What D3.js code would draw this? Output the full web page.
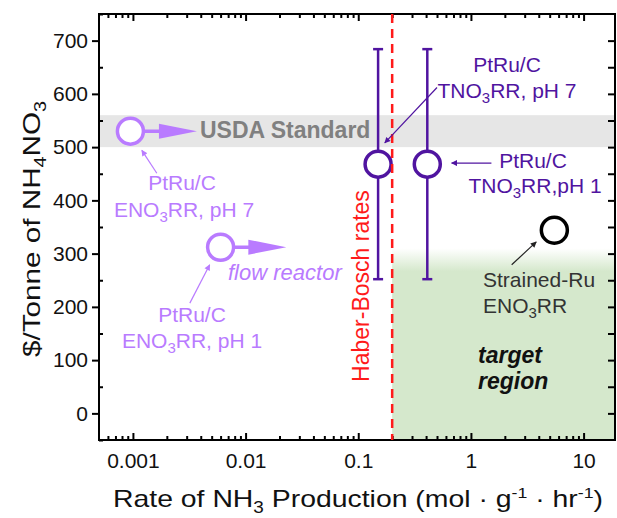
<!DOCTYPE html>
<html>
<head>
<meta charset="utf-8">
<script src="https://cdn.jsdelivr.net/npm/d3@7"></script>
<style>
  body { margin: 0; background: #fff; }
  svg text { font-family: "Liberation Sans", Arial, sans-serif; }
</style>
</head>
<body>
<div id="chart"></div>
<script>
// ---- data ----
const xTicks = [0.001, 0.01, 0.1, 1, 10];
const xTickLabels = ["0.001", "0.01", "0.1", "1", "10"];
const yTicks = [0, 100, 200, 300, 400, 500, 600, 700];

// ENO3RR points (light purple) with projected arrow end
const enoNames = ["pH 7", "flow"];
const enoRate = [0.00095, 0.006];
const enoCost = [530, 312];
const enoArrowTo = [0.0037, 0.023];

// TNO3RR points (dark purple) with error bars
const tnoNames = ["pH 7", "pH 1"];
const tnoRate = [0.15, 0.41];
const tnoCost = [468, 468];
const tnoLow = [252, 252];
const tnoHigh = [684, 684];

// Strained-Ru
const ruRate = [5.5];
const ruCost = [344];

const haberBosch = 0.2;
const usdaBand = [500, 560];
const targetTop = 310;

// ---- layout ----
const width = 617, height = 518;
const margin = { top: 14, right: 2, bottom: 78, left: 99 };
const innerW = width - margin.left - margin.right,
      innerH = height - margin.top - margin.bottom;

const light = "#b97bff", dark = "#5014a0";

const svg = d3.select("#chart").append("svg")
    .attr("width", width)
    .attr("height", height);

const g = svg.append("g")
    .attr("transform", `translate(${margin.left},${margin.top})`);

const x = d3.scaleLog().domain([0.0005, 19]).range([0, innerW]);
const y = d3.scaleLinear().domain([-50, 750]).range([innerH, 0]);

// arrow markers
const defs = svg.append("defs");
function marker(id, color, w, h) {
    defs.append("marker")
        .attr("id", id)
        .attr("viewBox", "0 0 10 10")
        .attr("refX", 9).attr("refY", 5)
        .attr("markerWidth", w).attr("markerHeight", h)
        .attr("markerUnits", "userSpaceOnUse")
        .attr("orient", "auto")
        .append("path")
        .attr("d", "M0,0L10,5L0,10z")
        .attr("fill", color);
}
marker("ahLight", light, 8, 6);
marker("ahDark", dark, 9, 6);
marker("ahBlack", "#222", 9, 6);

const grad = defs.append("linearGradient")
    .attr("id", "greenFade")
    .attr("x1", 0).attr("y1", 0).attr("x2", 0).attr("y2", 1);
grad.append("stop").attr("offset", "0%").attr("stop-color", "#d5e8cc").attr("stop-opacity", 0);
grad.append("stop").attr("offset", "12%").attr("stop-color", "#d5e8cc").attr("stop-opacity", 1);
grad.append("stop").attr("offset", "100%").attr("stop-color", "#d5e8cc").attr("stop-opacity", 1);

// USDA band
g.append("rect")
    .attr("x", 0)
    .attr("y", y(usdaBand[1]))
    .attr("width", innerW)
    .attr("height", y(usdaBand[0]) - y(usdaBand[1]))
    .attr("fill", "#e6e6e6");

// target region
g.append("rect")
    .attr("x", x(haberBosch))
    .attr("y", y(targetTop))
    .attr("width", innerW - x(haberBosch))
    .attr("height", innerH - y(targetTop))
    .attr("fill", "url(#greenFade)");

// axes
const minorX = [];
[-4, -3, -2, -1, 0, 1].forEach(e => {
    for (let k = 2; k <= 9; k++) {
        const v = k * Math.pow(10, e);
        if (v > 0.0005 && v < 19) minorX.push(v);
    }
});
const minorY = d3.range(-50, 751, 100);

// bottom: ticks inward
g.append("g")
    .attr("transform", `translate(0,${innerH})`)
    .call(d3.axisBottom(x).tickValues(xTicks).tickFormat((d, i) => xTickLabels[i])
        .tickSizeInner(-7).tickSizeOuter(0).tickPadding(13))
    .call(a => a.select(".domain").remove())
    .call(a => a.selectAll("text").attr("font-size", 21).attr("fill", "#111"));
g.append("g")
    .attr("transform", `translate(0,${innerH})`)
    .call(d3.axisBottom(x).tickValues(minorX).tickFormat("").tickSizeInner(-4).tickSizeOuter(0))
    .call(a => a.select(".domain").remove());

// top: ticks inward
g.append("g")
    .call(d3.axisBottom(x).tickValues(xTicks).tickFormat("").tickSizeInner(7).tickSizeOuter(0))
    .call(a => a.select(".domain").remove());
g.append("g")
    .call(d3.axisBottom(x).tickValues(minorX).tickFormat("").tickSizeInner(4).tickSizeOuter(0))
    .call(a => a.select(".domain").remove());

// left: major outward, minor inward
g.append("g")
    .call(d3.axisLeft(y).tickValues(yTicks).tickSizeInner(7).tickSizeOuter(0).tickPadding(4))
    .call(a => a.select(".domain").remove())
    .call(a => a.selectAll("text").attr("font-size", 21).attr("fill", "#111"));
g.append("g")
    .call(d3.axisRight(y).tickValues(minorY).tickFormat("").tickSizeInner(4).tickSizeOuter(0))
    .call(a => a.select(".domain").remove());

// right: inward
g.append("g")
    .attr("transform", `translate(${innerW},0)`)
    .call(d3.axisLeft(y).tickValues(d3.range(0, 701, 50)).tickFormat("").tickSizeInner(7).tickSizeOuter(0))
    .call(a => a.select(".domain").remove());

g.selectAll(".tick line").attr("stroke", "#000").attr("stroke-width", 2);

// frame
g.append("rect")
    .attr("width", innerW).attr("height", innerH)
    .attr("fill", "none").attr("stroke", "#000").attr("stroke-width", 2);

// error bars
tnoRate.forEach((r, i) => {
    const cx = x(r);
    g.append("line")
        .attr("x1", cx).attr("x2", cx)
        .attr("y1", y(tnoHigh[i])).attr("y2", y(tnoLow[i]))
        .attr("stroke", dark).attr("stroke-width", 2.5);
    [tnoHigh[i], tnoLow[i]].forEach(v => {
        g.append("line")
            .attr("x1", cx - 5).attr("x2", cx + 5)
            .attr("y1", y(v)).attr("y2", y(v))
            .attr("stroke", dark).attr("stroke-width", 2.5);
    });
});

// ENO3RR arrows (line + triangle)
enoRate.forEach((r, i) => {
    const cx = x(r), cy = y(enoCost[i]), tip = x(enoArrowTo[i]);
    g.append("line")
        .attr("x1", cx).attr("x2", tip - 30)
        .attr("y1", cy).attr("y2", cy)
        .attr("stroke", light).attr("stroke-width", 3.5);
    g.append("path")
        .attr("d", `M${tip - 38},${cy - 7.5}L${tip},${cy}L${tip - 38},${cy + 7.5}Z`)
        .attr("fill", light);
});

// circles
g.selectAll(".eno").data(enoRate).join("circle")
    .attr("cx", d => x(d)).attr("cy", (d, i) => y(enoCost[i]))
    .attr("r", 13).attr("fill", "#fff")
    .attr("stroke", light).attr("stroke-width", 3.5);

g.selectAll(".tno").data(tnoRate).join("circle")
    .attr("cx", d => x(d)).attr("cy", (d, i) => y(tnoCost[i]))
    .attr("r", 13).attr("fill", "#fff")
    .attr("stroke", dark).attr("stroke-width", 3.5);

g.selectAll(".ru").data(ruRate).join("circle")
    .attr("cx", d => x(d)).attr("cy", (d, i) => y(ruCost[i]))
    .attr("r", 13).attr("fill", "#fff")
    .attr("stroke", "#000").attr("stroke-width", 3.5);

// Haber-Bosch line
g.append("line")
    .attr("x1", x(haberBosch)).attr("x2", x(haberBosch))
    .attr("y1", 0).attr("y2", innerH)
    .attr("stroke", "#ff1a1a").attr("stroke-width", 2.5)
    .attr("stroke-dasharray", "9,6");

// annotation arrows (data coordinates)
function arrow(x1, y1, x2, y2, id, color) {
    g.append("line")
        .attr("x1", x(x1)).attr("y1", y(y1))
        .attr("x2", x(x2)).attr("y2", y(y2))
        .attr("stroke", color).attr("stroke-width", 1.2)
        .attr("marker-end", `url(#${id})`);
}
arrow(0.00163, 451, 0.0012, 494, "ahLight", light);
arrow(0.0032, 207, 0.0048, 279, "ahLight", light);
arrow(0.5, 612, 0.172, 508, "ahDark", dark);
arrow(1.52, 470, 0.674, 470, "ahDark", dark);
arrow(2.3, 279, 3.8, 322, "ahBlack", "#222");

// labels
function label(px, py, parts, opts) {
    const t = svg.append("text")
        .attr("x", px).attr("y", py)
        .attr("font-size", opts.size || 21)
        .attr("fill", opts.color)
        .attr("text-anchor", opts.anchor || "middle")
        .attr("font-weight", opts.weight || "normal")
        .attr("font-style", opts.style || "normal");
    parts.forEach(p => {
        if (typeof p === "string") t.append("tspan").text(p);
        else t.append("tspan")
            .attr("font-size", p.size || 14)
            .attr("baseline-shift", p.shift)
            .text(p.t);
    });
    return t;
}
const sub3 = { t: "3", shift: "-5", size: 15 };

label(200, 138, ["USDA Standard"], { color: "#808080", weight: "bold", anchor: "start", size: 23 });

label(182, 190, ["PtRu/C"], { color: light });
label(184, 217, ["ENO", sub3, "RR, pH 7"], { color: light });

label(192, 322, ["PtRu/C"], { color: light });
label(192, 348, ["ENO", sub3, "RR, pH 1"], { color: light });

label(228, 280, ["flow reactor"], { color: light, style: "italic", anchor: "start", size: 22 });

label(507, 72, ["PtRu/C"], { color: dark });
label(507, 98, ["TNO", sub3, "RR, pH 7"], { color: dark });

label(533, 168, ["PtRu/C"], { color: dark });
label(535, 193, ["TNO", sub3, "RR,pH 1"], { color: dark });

label(483, 287, ["Strained-Ru"], { color: "#333", anchor: "start" });
label(483, 313, ["ENO", sub3, "RR"], { color: "#333", anchor: "start" });

label(478, 363, ["target"], { color: "#111", weight: "bold", style: "italic", anchor: "start", size: 23 });
label(478, 389, ["region"], { color: "#111", weight: "bold", style: "italic", anchor: "start", size: 23 });

label(0, 0, ["Haber-Bosch rates"], { color: "#ff1a1a", size: 23 })
    .attr("transform", "translate(369,286) rotate(-90)");

// axis titles (the original lettering is wide, so stretch to its length)
label(358, 507, ["Rate of NH", { t: "3", shift: "-6", size: 16 }, " Production (mol \u00b7 g",
    { t: "-1", shift: "9", size: 15 }, " \u00b7 hr", { t: "-1", shift: "9", size: 15 }, ")"],
    { color: "#111", size: 24 })
    .attr("textLength", 490)
    .attr("lengthAdjust", "spacingAndGlyphs");

label(0, 0, ["$/Tonne of NH", { t: "4", shift: "-6", size: 16 }, "NO", { t: "3", shift: "-6", size: 16 }],
    { color: "#111", size: 24 })
    .attr("textLength", 256)
    .attr("lengthAdjust", "spacingAndGlyphs")
    .attr("transform", "translate(40,229) rotate(-90)");
</script>
</body>
</html>
